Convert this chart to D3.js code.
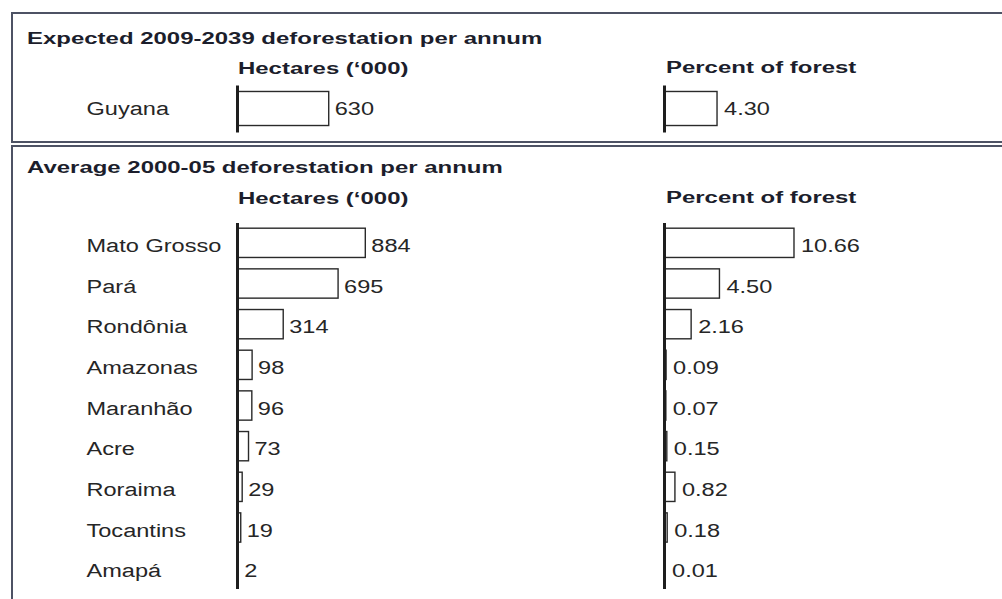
<!DOCTYPE html>
<html>
<head>
<meta charset="utf-8">
<script src="https://cdn.jsdelivr.net/npm/d3@7"></script>
<style>
  html, body { margin: 0; padding: 0; background: #ffffff; }
  svg { display: block; }
</style>
</head>
<body>
<script>
// ---- Data ----
const topTitle = "Expected 2009-2039 deforestation per annum";
const mainTitle = "Average 2000-05 deforestation per annum";
const colHeaders = ["Hectares (\u2018000)", "Percent of forest"];

const topCategories = ["Guyana"];
const topHectares = [630];
const topPercent = [4.30];

const categories = ["Mato Grosso", "Par\u00e1", "Rond\u00f4nia", "Amazonas", "Maranh\u00e3o", "Acre", "Roraima", "Tocantins", "Amap\u00e1"];
const hectares = [884, 695, 314, 98, 96, 73, 29, 19, 2];
const percent = [10.66, 4.50, 2.16, 0.09, 0.07, 0.15, 0.82, 0.18, 0.01];

// ---- Setup ----
const W = 1002, H = 599;
const svg = d3.select("body").append("svg").attr("width", W).attr("height", H);

const borderColor = "#4d5264";
const textColor = "#262626";
const titleColor = "#1c1e2c";
const BOLD_SIZE = 17, BOLD_SX = 1.41;
const REG_SIZE = 19, REG_SX = 1.24;

function txt(x, y, s, bold) {
  return svg.append("text")
    .attr("transform", `translate(${x},${y}) scale(${bold ? BOLD_SX : REG_SX},1)`)
    .attr("font-family", "Liberation Sans, Arial, sans-serif")
    .attr("font-size", bold ? BOLD_SIZE : REG_SIZE)
    .attr("font-weight", bold ? "bold" : "normal")
    .attr("fill", bold ? titleColor : textColor)
    .text(s);
}

// Panel borders
svg.append("rect").attr("x", 12).attr("y", 13).attr("width", 1010).attr("height", 129)
  .attr("fill", "none").attr("stroke", borderColor).attr("stroke-width", 2);
svg.append("path").attr("d", "M12,599 L12,146 L1010,146")
  .attr("fill", "none").attr("stroke", borderColor).attr("stroke-width", 2);

// Scales
const xHa = d3.scaleLinear().domain([0, 1000]).range([238, 382]);
const xPct = d3.scaleLinear().domain([0, 10]).range([665, 786]);

const yTop = d3.scaleBand().domain(topCategories).range([85, 132]).paddingInner(0.16).paddingOuter(0.16);
const yMain = d3.scaleBand().domain(categories).range([222.5, 588.5]).paddingInner(0.28).paddingOuter(0.14);

const fmtPct = d3.format(".2f");
const fmtHa = d3.format("d");

function drawBlock(cats, yScale, haVals, pctVals, title, titleY, headerY, labelDy) {
  txt(27, titleY, title, true);
  txt(238, headerY, colHeaders[0], true);
  txt(666, headerY - 1, colHeaders[1], true);

  // category labels
  cats.forEach((c, i) => {
    txt(86.5, yScale(c) + yScale.bandwidth() / 2 + labelDy, c, false);
  });

  // hectare bars
  svg.append("g").selectAll("rect").data(cats).join("rect")
    .attr("x", xHa(0))
    .attr("y", d => yScale(d))
    .attr("width", (d, i) => xHa(haVals[i]) - xHa(0))
    .attr("height", yScale.bandwidth())
    .attr("fill", "#ffffff")
    .attr("stroke", "#2a2a2a")
    .attr("stroke-width", 1.4);
  cats.forEach((c, i) => {
    txt(xHa(haVals[i]) + 6, yScale(c) + yScale.bandwidth() / 2 + labelDy, fmtHa(haVals[i]), false);
  });

  // percent bars
  svg.append("g").selectAll("rect").data(cats).join("rect")
    .attr("x", xPct(0))
    .attr("y", d => yScale(d))
    .attr("width", (d, i) => xPct(pctVals[i]) - xPct(0))
    .attr("height", yScale.bandwidth())
    .attr("fill", "#ffffff")
    .attr("stroke", "#2a2a2a")
    .attr("stroke-width", 1.4);
  cats.forEach((c, i) => {
    txt(xPct(pctVals[i]) + 7, yScale(c) + yScale.bandwidth() / 2 + labelDy, fmtPct(pctVals[i]), false);
  });

  // baseline axes
  const axisHa = svg.append("g").attr("transform", `translate(${xHa(0) - 1},0)`)
    .call(d3.axisLeft(yScale).tickSize(0).tickSizeOuter(0).tickFormat(""));
  const axisPct = svg.append("g").attr("transform", `translate(${xPct(0) - 1},0)`)
    .call(d3.axisLeft(yScale).tickSize(0).tickSizeOuter(0).tickFormat(""));
  [axisHa, axisPct].forEach(a => {
    a.select(".domain").attr("stroke", "#1e1e1e").attr("stroke-width", 3);
    a.selectAll(".tick").remove();
  });
}

drawBlock(topCategories, yTop, topHectares, topPercent, topTitle, 44, 74, 6);
drawBlock(categories, yMain, hectares, percent, mainTitle, 173, 204, 9);
</script>
</body>
</html>
